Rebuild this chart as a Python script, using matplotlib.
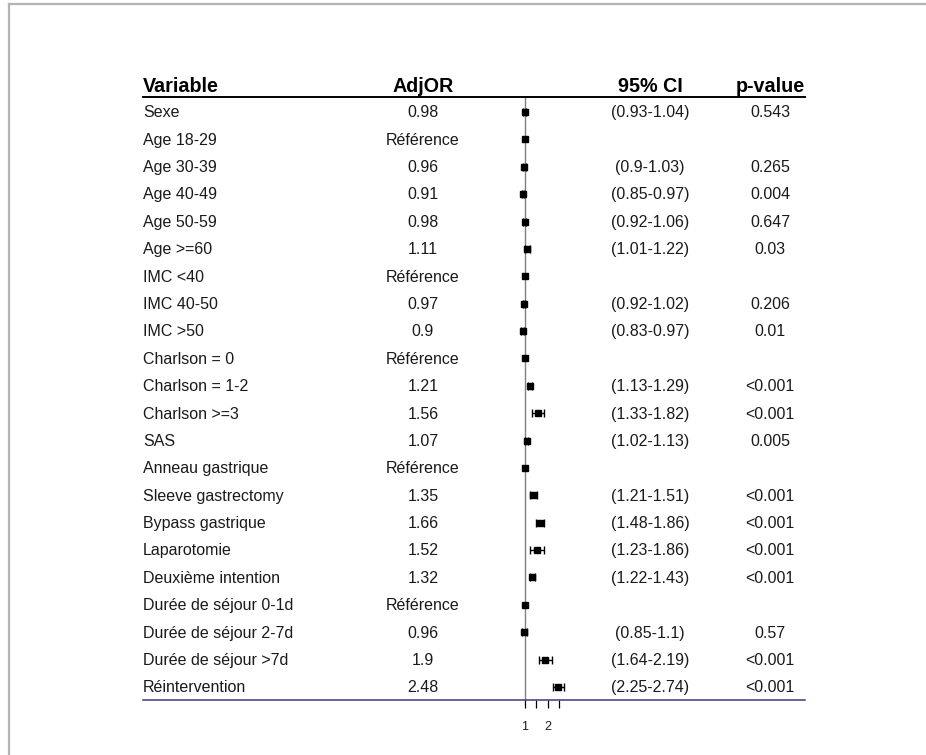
import numpy as np
import matplotlib
matplotlib.use("Agg")
import matplotlib.pyplot as plt
from matplotlib.lines import Line2D
import matplotlib.transforms as mtrans

plt.rcParams['font.family'] = ['Liberation Sans', 'DejaVu Sans']

variables = ["Sexe", "Age 18-29", "Age 30-39", "Age 40-49", "Age 50-59", "Age >=60",
             "IMC <40", "IMC 40-50", "IMC >50", "Charlson = 0", "Charlson = 1-2",
             "Charlson >=3", "SAS", "Anneau gastrique", "Sleeve gastrectomy",
             "Bypass gastrique", "Laparotomie", "Deuxième intention",
             "Durée de séjour 0-1d", "Durée de séjour 2-7d", "Durée de séjour >7d",
             "Réintervention"]
adj_or = [0.98, 1, 0.96, 0.91, 0.98, 1.11, 1, 0.97, 0.9, 1, 1.21, 1.56, 1.07, 1,
          1.35, 1.66, 1.52, 1.32, 1, 0.96, 1.9, 2.48]
is_ref = [False, True, False, False, False, False, True, False, False, True, False,
          False, False, True, False, False, False, False, True, False, False, False]
ci_low = [0.93, None, 0.9, 0.85, 0.92, 1.01, None, 0.92, 0.83, None, 1.13, 1.33, 1.02,
          None, 1.21, 1.48, 1.23, 1.22, None, 0.85, 1.64, 2.25]
ci_high = [1.04, None, 1.03, 0.97, 1.06, 1.22, None, 1.02, 0.97, None, 1.29, 1.82, 1.13,
           None, 1.51, 1.86, 1.86, 1.43, None, 1.1, 2.19, 2.74]
p_values = ["0.543", "", "0.265", "0.004", "0.647", "0.03", "", "0.206", "0.01", "",
            "<0.001", "<0.001", "0.005", "", "<0.001", "<0.001", "<0.001", "<0.001",
            "", "0.57", "<0.001", "<0.001"]
x_ticks = [1, 1.5, 2, 2.5]
x_tick_labels = ["1", "", "2", ""]

W, H = 926, 755
fig = plt.figure(figsize=(W / 100, H / 100), dpi=100)

# forest axes spans the table width; x in OR units (1 -> px 525, 22.6 px per unit)
left_px, right_px, top_px, bot_px = 143, 805, 97, 700
ax = fig.add_axes([left_px / W, 1 - bot_px / H, (right_px - left_px) / W, (bot_px - top_px) / H])
px_per_unit = 22.6
ax.set_xlim(1 - (525 - left_px) / px_per_unit, 1 + (right_px - 525) / px_per_unit)
row_h = 27.38
n = len(variables)
ax.set_ylim((n - 1) + (bot_px - 687) / row_h, -(112 - top_px) / row_h)

y = np.arange(n)
ax.plot([1, 1], [ax.get_ylim()[0], ax.get_ylim()[1]], color='#808080', lw=1, zorder=1)

for i in range(n):
    if ci_low[i] is not None:
        ax.errorbar(adj_or[i], y[i], xerr=[[adj_or[i] - ci_low[i]], [ci_high[i] - adj_or[i]]],
                    fmt='none', ecolor='black', elinewidth=1, capsize=3.2, capthick=1, zorder=2)
ax.plot(adj_or, y, 's', color='black', markersize=4.8, zorder=3)

for s in ['left', 'right']:
    ax.spines[s].set_visible(False)
ax.spines['top'].set_color('black')
ax.spines['top'].set_linewidth(1.4)
ax.spines['bottom'].set_color('#3a3a80')
ax.spines['bottom'].set_linewidth(1.1)
ax.set_yticks([])
ax.set_xticks(x_ticks)
ax.set_xticklabels(x_tick_labels)
ax.tick_params(axis='x', direction='out', length=6, width=0.9, color='black',
               labelsize=9, pad=9, labelcolor='#1a1a2a')

# table text
tr = mtrans.blended_transform_factory(fig.transFigure, ax.transData)
col_var, col_or, col_ci, col_p = 143, 423, 650, 770
txt = dict(fontsize=11.5, color='#1a1a1a', va='center', transform=tr)
for i in range(n):
    ax.text(col_var / W, y[i] + 0.03, variables[i], ha='left', **txt)
    or_txt = "Référence" if is_ref[i] else f"{adj_or[i]:g}"
    ax.text(col_or / W, y[i] + 0.03, or_txt, ha='center', **txt)
    if ci_low[i] is not None:
        ax.text(col_ci / W, y[i] + 0.03, f"({ci_low[i]:g}-{ci_high[i]:g})", ha='center', **txt)
    ax.text(col_p / W, y[i] + 0.03, p_values[i], ha='center', **txt)

hy = 1 - 86 / H
hd = dict(fontsize=14.2, fontweight='bold', color='black', va='center')
fig.text(col_var / W, hy, "Variable", ha='left', **hd)
fig.text(col_or / W, hy, "AdjOR", ha='center', **hd)
fig.text(col_ci / W, hy, "95% CI", ha='center', **hd)
fig.text(col_p / W, hy, "p-value", ha='center', **hd)

# light frame on top and left
fig.add_artist(Line2D([9 / W, 1], [1 - 4 / H, 1 - 4 / H], color='#b4b4b4', lw=1.6))
fig.add_artist(Line2D([9 / W, 9 / W], [0, 1 - 4 / H], color='#b4b4b4', lw=1.6))

fig.savefig("out.png", dpi=100)
